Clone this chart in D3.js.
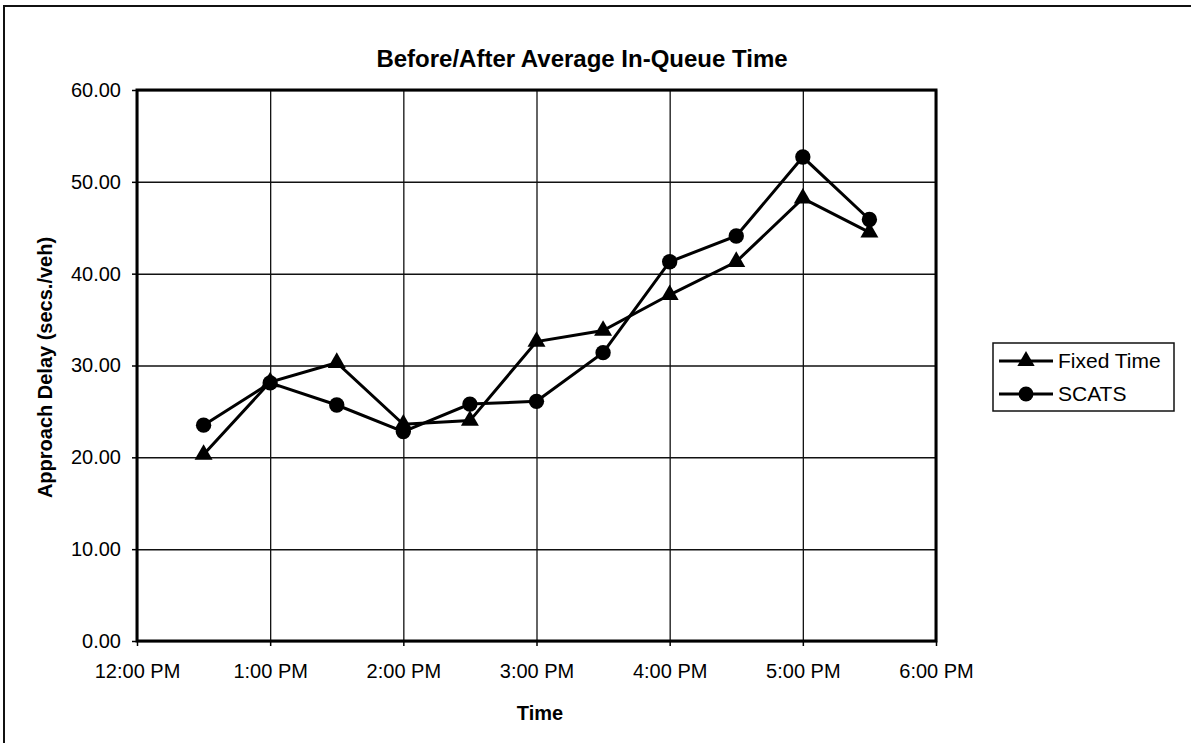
<!DOCTYPE html>
<html>
<head>
<meta charset="utf-8">
<script src="https://cdn.jsdelivr.net/npm/d3@7"></script>
<style>
    body { margin: 0; background: #fff; }
    svg { display: block; font-family: "Liberation Sans", Arial, sans-serif; }
</style>
</head>
<body>
<div class="chart"></div>
<script>
// Half-hour sample times, in hours (12.5 = 12:30 PM)
const times = [12.5, 13, 13.5, 14, 14.5, 15, 15.5, 16, 16.5, 17, 17.5];
const fixedTime = [20.3, 28.2, 30.3, 23.6, 24.0, 32.6, 33.8, 37.7, 41.3, 48.2, 44.5];
const scats = [23.5, 28.1, 25.7, 22.8, 25.8, 26.1, 31.4, 41.3, 44.1, 52.7, 45.9];

const hourTicks = [12, 13, 14, 15, 16, 17, 18];
const hourLabels = ["12:00 PM", "1:00 PM", "2:00 PM", "3:00 PM", "4:00 PM", "5:00 PM", "6:00 PM"];
const yTicks = [0, 10, 20, 30, 40, 50, 60];

const width = 1191, height = 743;
const margin = {top: 90, left: 137, right: 255, bottom: 102};
const innerW = width - margin.left - margin.right;
const innerH = height - margin.top - margin.bottom;

const svg = d3.select(".chart").append("svg")
    .attr("width", width)
    .attr("height", height);

// outer chart frame (only left/top edges fall inside the page)
svg.append("rect")
    .attr("x", 4).attr("y", 6)
    .attr("width", width + 20).attr("height", height + 20)
    .style("fill", "none").style("stroke", "#111").style("stroke-width", 2);

const x = d3.scaleLinear().domain([12, 18]).range([0, innerW]);
const y = d3.scaleLinear().domain([0, 60]).range([innerH, 0]);

const g = svg.append("g")
    .attr("transform", "translate(" + margin.left + "," + margin.top + ")");

// gridlines
const gridY = g.append("g")
    .call(d3.axisLeft(y).tickValues(yTicks).tickSize(-innerW).tickFormat(""));
gridY.selectAll("line").style("stroke", "#111").style("stroke-width", 1.5);
gridY.select("path").remove();

const gridX = g.append("g")
    .attr("transform", "translate(0," + innerH + ")")
    .call(d3.axisBottom(x).tickValues(hourTicks).tickSize(-innerH).tickFormat(""));
gridX.selectAll("line").style("stroke", "#111").style("stroke-width", 1.3);
gridX.select("path").remove();

// plot frame
g.append("rect")
    .attr("width", innerW).attr("height", innerH)
    .style("fill", "none").style("stroke", "#000").style("stroke-width", 3);

// axes
const yAxis = g.append("g")
    .call(d3.axisLeft(y).tickValues(yTicks).tickSize(5).tickPadding(11)
        .tickFormat(d => d3.format(".2f")(d)));
yAxis.select("path").remove();
yAxis.selectAll("line").style("stroke", "#000").style("stroke-width", 1.5);
yAxis.selectAll("text")
    .style("font-size", "20px").style("fill", "#000");

const xAxis = g.append("g")
    .attr("transform", "translate(0," + innerH + ")")
    .call(d3.axisBottom(x).tickValues(hourTicks).tickSize(5).tickPadding(18)
        .tickFormat((d, i) => hourLabels[i]));
xAxis.select("path").remove();
xAxis.selectAll("line").style("stroke", "#000").style("stroke-width", 1.5);
xAxis.selectAll("text")
    .style("font-size", "20px").style("fill", "#000");

// titles
svg.append("text")
    .attr("x", 582).attr("y", 67)
    .attr("text-anchor", "middle")
    .style("font-size", "24px").style("font-weight", "bold")
    .text("Before/After Average In-Queue Time");

svg.append("text")
    .attr("transform", "translate(52," + (margin.top + innerH / 2 + 2) + ") rotate(-90)")
    .attr("text-anchor", "middle")
    .style("font-size", "20px").style("font-weight", "bold")
    .text("Approach Delay (secs./veh)");

svg.append("text")
    .attr("x", 540).attr("y", 720)
    .attr("text-anchor", "middle")
    .style("font-size", "20px").style("font-weight", "bold")
    .text("Time");

// series
const series = [
    {name: "Fixed Time", values: fixedTime, marker: d3.symbolTriangle},
    {name: "SCATS", values: scats, marker: d3.symbolCircle}
];

const line = d3.line()
    .x(d => x(d.t))
    .y(d => y(d.v));

series.forEach(s => {
    const pts = times.map((t, i) => ({t: t, v: s.values[i]}));
    g.append("path")
        .datum(pts)
        .attr("d", line)
        .style("fill", "none").style("stroke", "#000").style("stroke-width", 3);

    g.selectAll(null)
        .data(pts)
        .enter().append("path")
        .attr("transform", d => "translate(" + x(d.t) + "," + y(d.v) + ")")
        .attr("d", d3.symbol().type(s.marker).size(s.marker === d3.symbolCircle ? 185 : 140))
        .style("fill", "#000");
});

// legend
const legend = svg.append("g").attr("transform", "translate(993,343)");
legend.append("rect")
    .attr("width", 181).attr("height", 68)
    .style("fill", "#fff").style("stroke", "#111").style("stroke-width", 1.5);

series.forEach((s, i) => {
    const ly = 18 + i * 33;
    legend.append("line")
        .attr("x1", 6).attr("x2", 60).attr("y1", ly).attr("y2", ly)
        .style("stroke", "#000").style("stroke-width", 3);
    legend.append("path")
        .attr("transform", "translate(33," + ly + ")")
        .attr("d", d3.symbol().type(s.marker).size(s.marker === d3.symbolCircle ? 175 : 130))
        .style("fill", "#000");
    legend.append("text")
        .attr("x", 65).attr("y", ly + 7)
        .style("font-size", "21px")
        .text(s.name);
});
</script>
</body>
</html>
